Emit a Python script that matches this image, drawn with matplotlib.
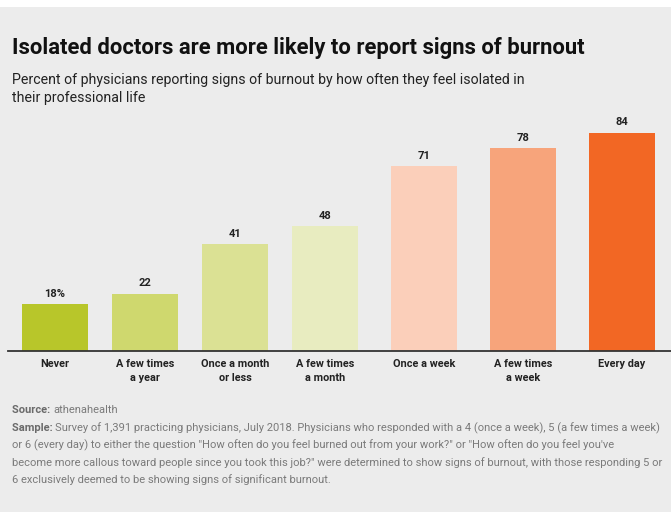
import numpy as np
import matplotlib.pyplot as plt
from matplotlib.patches import Rectangle

# data
categories = ["Never", "A few times\na year", "Once a month\nor less", "A few times\na month",
              "Once a week", "A few times\na week", "Every day"]
values = [18, 22, 41, 48, 71, 78, 84]
value_labels = ["18%", "22", "41", "48", "71", "78", "84"]
bar_colors = ["#b8c62a", "#cfd86e", "#dbe194", "#e8ecc0", "#fbcfba", "#f7a47b", "#f26724"]

title = "Isolated doctors are more likely to report signs of burnout"
subtitle = ["Percent of physicians reporting signs of burnout by how often they feel isolated in",
            "their professional life"]
source = "athenahealth"
sample_lines = [
    "Survey of 1,391 practicing physicians, July 2018. Physicians who responded with a 4 (once a week), 5 (a few times a week)",
    "or 6 (every day) to either the question \"How often do you feel burned out from your work?\" or \"How often do you feel you've",
    "become more callous toward people since you took this job?\" were determined to show signs of burnout, with those responding 5 or",
    "6 exclusively deemed to be showing signs of significant burnout.",
]

plt.rcParams['font.family'] = ['Roboto', 'DejaVu Sans']

W, H = 671, 512
bg = "#ececec"
fig = plt.figure(figsize=(W / 100, H / 100), dpi=100, facecolor=bg)

# white strip at the very top
fig.patches.append(Rectangle((0, 1 - 7 / H), 1, 7 / H, transform=fig.transFigure,
                             facecolor="white", edgecolor="none", zorder=-1))

# a small extra gap between the green and the orange group
xpos = np.arange(len(values)) + 0.1 * np.clip(np.arange(len(values)) - 3, 0, None)

px_per_unit = 90.0
ax_left, ax_right = 8, 671
x0 = -(55 - ax_left) / px_per_unit
x1 = x0 + (ax_right - ax_left) / px_per_unit
base_y, top_y = 351, 111
ax = fig.add_axes([ax_left / W, 1 - base_y / H, (ax_right - ax_left) / W, (base_y - top_y) / H])
ax.set_facecolor(bg)
ax.bar(xpos, values, width=66 / px_per_unit, color=bar_colors, zorder=2)
ax.set_xlim(x0, x1)
ax.set_ylim(0, (base_y - top_y) / 2.6)

for x, v, lab in zip(xpos, values, value_labels):
    ax.annotate(lab, (x, v), xytext=(0, 4), textcoords="offset points",
                ha="center", va="bottom", fontsize=8, fontweight="bold", color="#222222")

ax.set_xticks(xpos)
ax.set_xticklabels(categories, fontsize=7.8, fontweight="bold", color="#222222", linespacing=1.5)
ax.tick_params(axis="x", length=0, pad=6)
ax.set_yticks([])
for s in ["top", "right", "left"]:
    ax.spines[s].set_visible(False)
ax.spines["bottom"].set_color("#333333")
ax.spines["bottom"].set_linewidth(1.3)

# headline texts
fig.text(12 / W, 1 - 54 / H, title, fontsize=15.8, fontweight="bold", color="#111111", va="baseline")
for i, line in enumerate(subtitle):
    fig.text(12 / W, 1 - (84 + 18 * i) / H, line, fontsize=10.2, color="#222222", va="baseline")

# footer
r = fig.canvas.get_renderer()
t = fig.text(12 / W, 1 - 413 / H, "Source: ", fontsize=8, fontweight="bold", color="#6a6a6a", va="baseline")
w = t.get_window_extent(r).width
fig.text((12 + w) / W, 1 - 413 / H, source, fontsize=8, color="#7a7a7a", va="baseline")
t = fig.text(12 / W, 1 - 431 / H, "Sample: ", fontsize=8, fontweight="bold", color="#6a6a6a", va="baseline")
w = t.get_window_extent(r).width
for i, line in enumerate(sample_lines):
    x = 12 + w if i == 0 else 12
    fig.text(x / W, 1 - (431 + 17.3 * i) / H, line, fontsize=8, color="#7a7a7a", va="baseline")

fig.savefig("out.png", dpi=100, facecolor=bg)
